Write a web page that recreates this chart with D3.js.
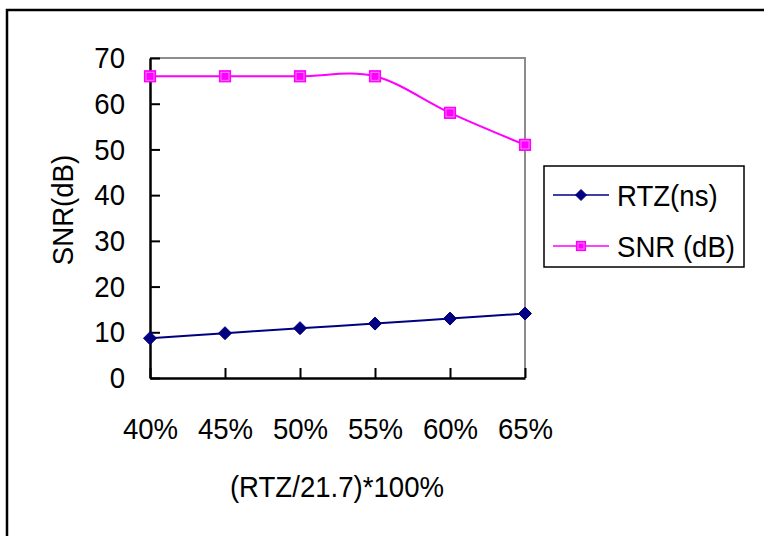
<!DOCTYPE html>
<html>
<head>
<meta charset="utf-8">
<script src="https://cdn.jsdelivr.net/npm/d3@7/dist/d3.min.js"></script>
<style>
  html, body { margin: 0; padding: 0; background: #fff; }
  svg { display: block; }
  text { font-family: "Liberation Sans", Arial, sans-serif; fill: #000; }
</style>
</head>
<body>
<svg id="chart" width="764" height="536"></svg>
<script>
// Ratio of rise time to 21.7 ns, in percent
const categories = ["40%", "45%", "50%", "55%", "60%", "65%"];
// Rise time (ns)
const rtzValues = [8.7, 9.8, 10.9, 11.9, 13.0, 14.1];
// Signal-to-noise ratio (dB)
const snrValues = [66, 66, 66, 66, 58, 51];
const yTickValues = [0, 10, 20, 30, 40, 50, 60, 70];
const seriesNames = ["RTZ(ns)", "SNR (dB)"];
const xTitle = "(RTZ/21.7)*100%";
const yTitle = "SNR(dB)";

const svg = d3.select("#chart");
const plot = { left: 150, top: 58, right: 525, bottom: 378 };
const fontSize = 30;
const squeeze = 0.92; // slightly condensed glyphs

// narrow a text element horizontally around its own anchor point
function condense(sel) {
  sel.each(function () {
    const t = d3.select(this);
    const tx = +t.attr("x") || 0, ty = +t.attr("y") || 0;
    t.attr("transform", `translate(${tx},${ty}) scale(${squeeze},1) translate(${-tx},${-ty})`);
  });
}

// outer frame
svg.append("rect")
  .attr("x", 7).attr("y", 10)
  .attr("width", 800).attr("height", 600)
  .attr("fill", "none").attr("stroke", "#000").attr("stroke-width", 2.5);

const x = d3.scalePoint().domain(categories).range([plot.left, plot.right]);
const y = d3.scaleLinear().domain([0, 70]).range([plot.bottom, plot.top]);

// gray plot-area border (top & right)
svg.append("path")
  .attr("d", `M${plot.left},${plot.top}H${plot.right}V${plot.bottom}`)
  .attr("fill", "none").attr("stroke", "#8c8c8c").attr("stroke-width", 2);

// y axis
const yAxis = svg.append("g")
  .attr("transform", `translate(${plot.left},0)`)
  .call(d3.axisLeft(y).tickValues(yTickValues).tickSize(-10).tickSizeOuter(0).tickPadding(25));
yAxis.select(".domain").attr("stroke", "#000").attr("stroke-width", 2.5);
yAxis.selectAll(".tick line").attr("stroke", "#000").attr("stroke-width", 2);
yAxis.selectAll(".tick text")
  .attr("font-size", fontSize).attr("font-family", "Liberation Sans, Arial, sans-serif")
  .attr("fill", "#000")
  .call(condense);

// x axis
const xAxis = svg.append("g")
  .attr("transform", `translate(0,${plot.bottom})`)
  .call(d3.axisBottom(x).tickSize(-10).tickSizeOuter(0).tickPadding(40));
xAxis.select(".domain").attr("stroke", "#000").attr("stroke-width", 2.5);
xAxis.selectAll(".tick line").attr("stroke", "#000").attr("stroke-width", 2);
xAxis.selectAll(".tick text")
  .attr("font-size", fontSize).attr("font-family", "Liberation Sans, Arial, sans-serif")
  .attr("fill", "#000")
  .call(condense);

// axis titles
svg.append("text")
  .attr("x", 337).attr("y", 497)
  .attr("text-anchor", "middle")
  .attr("font-size", fontSize)
  .text(xTitle)
  .call(condense);
svg.append("text")
  .attr("transform", `translate(73,210) rotate(-90) scale(${squeeze},1)`)
  .attr("text-anchor", "middle")
  .attr("font-size", fontSize)
  .text(yTitle);

const line = d3.line().curve(d3.curveCatmullRom.alpha(0));
const rtzColor = "#000080", snrColor = "#ff00ff";

function diamond(g, cx, cy, r) {
  g.append("path")
    .attr("d", `M${cx},${cy - r}L${cx + r},${cy}L${cx},${cy + r}L${cx - r},${cy}Z`)
    .attr("fill", rtzColor).attr("stroke", rtzColor).attr("stroke-width", 1);
}
function square(g, cx, cy, h) {
  g.append("rect")
    .attr("x", cx - h).attr("y", cy - h).attr("width", 2 * h).attr("height", 2 * h)
    .attr("fill", snrColor).attr("stroke", snrColor).attr("stroke-width", 1.2);
  g.append("rect")
    .attr("x", cx - h + 1.5).attr("y", cy - h + 1.5).attr("width", 2 * h - 3).attr("height", 2 * h - 3)
    .attr("fill", "none").attr("stroke", "#ff99ff").attr("stroke-width", 0.8);
}

// RTZ series
svg.append("path")
  .attr("d", line(categories.map((c, i) => [x(c), y(rtzValues[i])])))
  .attr("fill", "none").attr("stroke", rtzColor).attr("stroke-width", 2);
const rtzMarks = svg.append("g");
categories.forEach((c, i) => diamond(rtzMarks, x(c), y(rtzValues[i]), 6.5));

// SNR series
svg.append("path")
  .attr("d", line(categories.map((c, i) => [x(c), y(snrValues[i])])))
  .attr("fill", "none").attr("stroke", snrColor).attr("stroke-width", 2);
const snrMarks = svg.append("g");
categories.forEach((c, i) => square(snrMarks, x(c), y(snrValues[i]), 5.5));

// legend
const legend = svg.append("g");
legend.append("rect")
  .attr("x", 544).attr("y", 166).attr("width", 200).attr("height", 101)
  .attr("fill", "#fff").attr("stroke", "#000").attr("stroke-width", 1.5);
const rows = [195, 246];
legend.append("line").attr("x1", 553).attr("x2", 609).attr("y1", rows[0]).attr("y2", rows[0])
  .attr("stroke", rtzColor).attr("stroke-width", 1.5);
diamond(legend, 581, rows[0], 5.5);
legend.append("line").attr("x1", 553).attr("x2", 609).attr("y1", rows[1]).attr("y2", rows[1])
  .attr("stroke", snrColor).attr("stroke-width", 1.5);
square(legend, 581, rows[1], 4.5);
seriesNames.forEach((name, i) => {
  legend.append("text")
    .attr("x", 617).attr("y", rows[i] + 11)
    .attr("font-size", fontSize)
    .text(name)
    .call(condense);
});
</script>
</body>
</html>
